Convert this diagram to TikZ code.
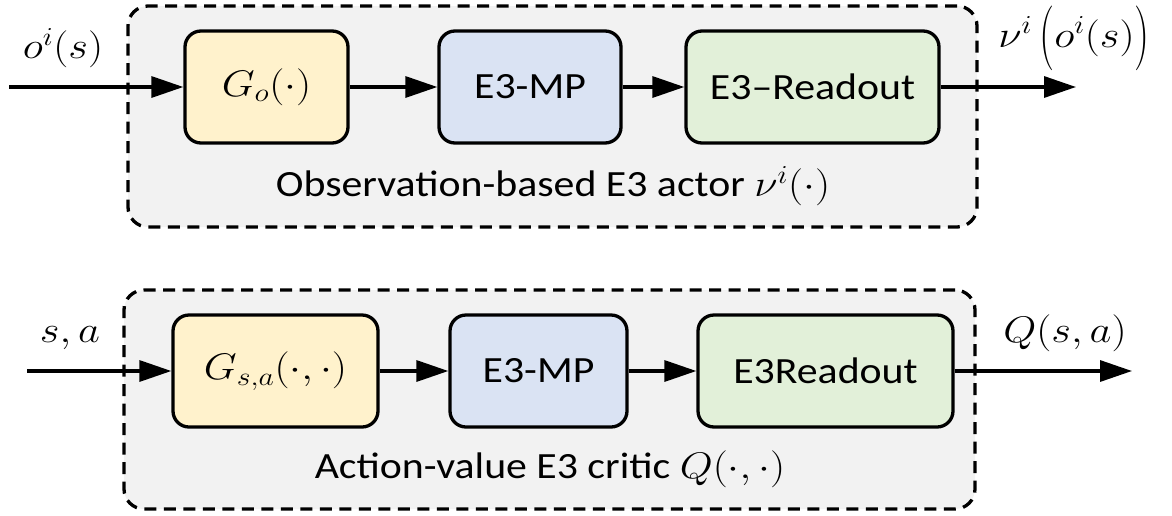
\RequirePackage{fix-cm}
\documentclass[tikz,border=0pt]{standalone}
\usepackage{amsmath}
\usepackage{fontspec}
\setmainfont{Carlito}[FakeStretch=1.13]
\usetikzlibrary{arrows.meta}
\definecolor{cyel}{HTML}{FFF2CC}
\definecolor{cblu}{HTML}{DAE3F3}
\definecolor{cgrn}{HTML}{E2F0D9}
\definecolor{cgry}{HTML}{F2F2F2}
\newcommand{\wm}[1]{\scalebox{1.15}[1]{$#1$}}
\newcommand{\tallp}[1]{\raisebox{-7pt}{\scalebox{1}[1.75]{$#1$}}}
\begin{document}
\begin{tikzpicture}[x=1pt,y=-1pt,
  font=\fontsize{37}{44}\selectfont,
  container/.style={draw, fill=cgry, line width=3.3pt, dash pattern=on 12pt off 7.5pt, rounded corners=20pt, inner sep=0pt},
  blk/.style={draw, line width=3.3pt, rounded corners=16pt, minimum height=112pt, inner sep=0pt},
  conn/.style={line width=3.3pt, -{Triangle[length=32pt,width=21pt]}},
  lbl/.style={inner sep=0pt}]
\useasboundingbox (0,0) rectangle (1172,515);
% top container
\node[container, minimum width=849pt, minimum height=221pt] (topc) at (552.5,116.5) {};
\node[blk, fill=cyel, minimum width=163pt] (go) at (266.5,87) {\wm{G_o(\cdot)}};
\node[blk, fill=cblu, minimum width=182pt] (mp1) at (530,87) {E3-MP};
\node[blk, fill=cgrn, minimum width=253pt] (ro1) at (812.5,87) {E3--Readout};
\node[lbl] (cap1) at (553,186) {Observation-based E3 actor \wm{\nu^i(\cdot)}};
\coordinate (in1) at (9,87);
\coordinate (out1) at (1076,87);
\node[lbl] (l1) at (63,48) {\wm{o^i(s)}};
\node[lbl] (l2) at (1074,38) {\wm{\nu^i\,\tallp{(}o^i(s)\tallp{)}}};
\draw[conn] (in1) -- (go);
\draw[conn] (go) -- (mp1);
\draw[conn] (mp1) -- (ro1);
\draw[conn] (ro1) -- (out1);
% bottom container
\node[container, minimum width=851pt, minimum height=219pt] (botc) at (549.5,399.5) {};
\node[blk, fill=cyel, minimum width=205pt] (gsa) at (275.5,371) {\wm{G_{s,a}(\cdot,\cdot)}};
\node[blk, fill=cblu, minimum width=177pt] (mp2) at (538.5,371) {E3-MP};
\node[blk, fill=cgrn, minimum width=255pt] (ro2) at (825.5,371) {E3Readout};
\node[lbl] (cap2) at (550,469) {Action-value E3 critic \wm{Q(\cdot,\cdot)}};
\coordinate (in2) at (27,371);
\coordinate (out2) at (1132,371);
\node[lbl] (l3) at (70,338) {\wm{s,a}};
\node[lbl] (l4) at (1065,333) {\wm{Q(s,a)}};
\draw[conn] (in2) -- (gsa);
\draw[conn] (gsa) -- (mp2);
\draw[conn] (mp2) -- (ro2);
\draw[conn] (ro2) -- (out2);
\end{tikzpicture}
\end{document}
